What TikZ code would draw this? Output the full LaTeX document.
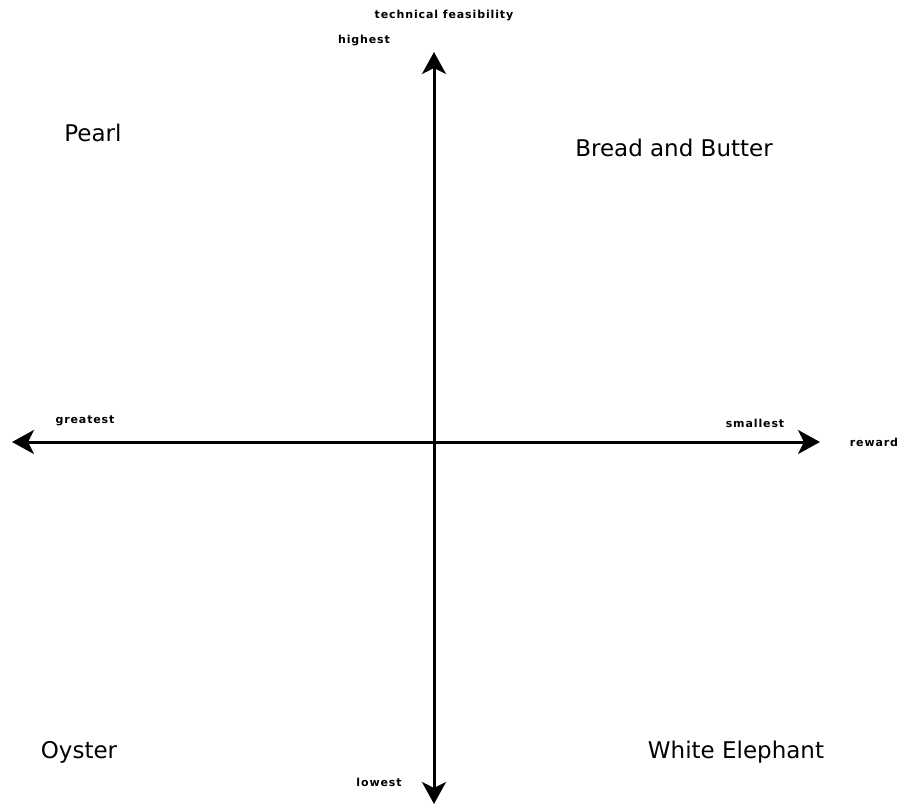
\documentclass[tikz,border=0pt]{standalone}
\usepackage{fontspec}
\setmainfont{DejaVu Sans}
\newfontfamily\axisfont[LetterSpace=8]{DejaVu Sans Bold}
\usetikzlibrary{arrows.meta}
\tikzset{%
  >={Stealth[length=22pt,width=24pt,inset=6pt]}, % big arrow tips
  axis/.style={line width=3pt,<->},%
  quadrant/.style={font=\fontsize{23}{27}\selectfont,inner sep=0pt},%
  tick label/.style={font=\axisfont\fontsize{11}{13}\selectfont,inner sep=0pt}%
}
\begin{document}
\begin{tikzpicture}[x=1pt,y=-1pt] % feasibility vs. reward


    \useasboundingbox (0,0) rectangle (903,808);

    \coordinate (Top) at (434,52);
    \coordinate (Bottom) at (434,804);
    \coordinate (Left) at (12,442);
    \coordinate (Right) at (820,442);

    \draw[axis] (Bottom) -- (Top); % technical feasibility
    \draw[axis] (Left) -- (Right); % reward

    \node[tick label] (feas) at (444,16) {technical feasibility};
    \node[tick label] (high) at (364,41) {highest};
    \node[tick label] (low) at (379,782) {lowest};
    \node[tick label] (great) at (85,421) {greatest};
    \node[tick label] (small) at (755,423) {smallest};
    \node[tick label] (rew) at (874,442) {reward};

    \node[quadrant] (pearl) at (93,133) {Pearl};
    \node[quadrant] (bread) at (674,148) {Bread and Butter};
    \node[quadrant] (oyster) at (79,752) {Oyster};
    \node[quadrant] (white) at (736,752) {White Elephant};

\end{tikzpicture}
\end{document}
